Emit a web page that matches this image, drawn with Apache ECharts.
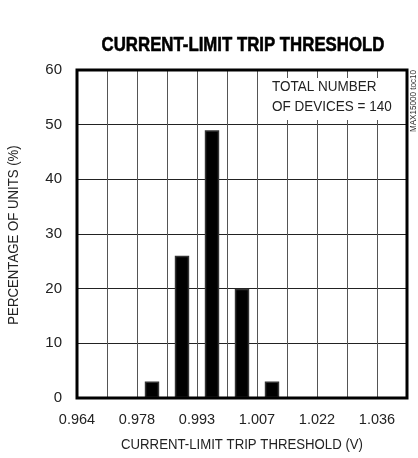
<!DOCTYPE html>
<html>
<head>
<meta charset="utf-8">
<script src="https://cdn.jsdelivr.net/npm/echarts@6/dist/echarts.min.js"></script>
<style>
html,body{margin:0;padding:0;background:#fff;}
#chart{width:418px;height:458px;}
</style>
</head>
<body>
<div id="chart"></div>
<script>
// Histogram bins (bin centres, V) and percentage of units in each bin
const bins = ['0.9676','0.9748','0.9820','0.9892','0.9964','1.0036','1.0108','1.0180','1.0252','1.0324','1.0396'];
const percentages = [0, 0, 3, 26, 49, 20, 3, 0, 0, 0, 0];
// Bin edges labelled on the x axis (blank = unlabelled gridline)
const edgeLabels = ['0.964','','0.978','','0.993','','1.007','','1.022','','1.036',''];
const yTicks = [0, 10, 20, 30, 40, 50, 60];

const FONT = "'Liberation Sans', Arial, sans-serif";
const chart = echarts.init(document.getElementById('chart'), null, {renderer: 'canvas'});
chart.setOption({
  animation: false,
  backgroundColor: '#fff',
  grid: {left: 77, right: 11, top: 70, bottom: 60, show: true, borderColor: '#000', borderWidth: 3, backgroundColor: 'transparent', z: 5},
  xAxis: [
    {
      type: 'category', data: bins, boundaryGap: true,
      axisLine: {show: false}, axisTick: {show: false}, axisLabel: {show: false},
      splitLine: {show: false}
    },
    {
      type: 'category', data: edgeLabels, boundaryGap: false, position: 'bottom',
      axisLine: {show: false}, axisTick: {show: false},
      axisLabel: {show: true, interval: 0, margin: 14, color: '#222', fontFamily: FONT, fontSize: 14.5},
      splitLine: {show: true, interval: 0, lineStyle: {color: '#555', width: 1}}
    }
  ],
  yAxis: {
    type: 'value', min: yTicks[0], max: yTicks[yTicks.length - 1], interval: 10,
    axisLine: {show: false}, axisTick: {show: false},
    axisLabel: {margin: 15, color: '#222', fontFamily: FONT, fontSize: 15},
    splitLine: {show: true, lineStyle: {color: '#222', width: 1}}
  },
  series: [{
    type: 'bar', xAxisIndex: 0, data: percentages, barWidth: '48%',
    itemStyle: {color: '#000', borderColor: '#333', borderWidth: 1.5}, z: 3
  }],
  graphic: [
    {type: 'text', x: 243, y: 45, scaleX: 0.8, style: {text: 'CURRENT-LIMIT TRIP THRESHOLD', font: "bold 21px " + FONT, fill: '#000', stroke: '#000', lineWidth: 0.6, textAlign: 'center', textVerticalAlign: 'middle'}},
    {type: 'text', x: 242, y: 445, scaleX: 0.88, style: {text: 'CURRENT-LIMIT TRIP THRESHOLD (V)', font: "15px " + FONT, fill: '#222', textAlign: 'center', textVerticalAlign: 'middle'}},
    {type: 'text', x: 14, y: 235, rotation: Math.PI / 2, scaleX: 0.88, style: {text: 'PERCENTAGE OF UNITS (%)', font: "15px " + FONT, fill: '#222', textAlign: 'center', textVerticalAlign: 'middle'}},
    {type: 'rect', shape: {x: 268, y: 78, width: 136, height: 42}, style: {fill: '#fff'}, z: 4},
    {type: 'text', x: 272, y: 87, z: 6, scaleX: 0.9, style: {text: 'TOTAL NUMBER', font: "15px " + FONT, fill: '#222', textAlign: 'left', textVerticalAlign: 'middle'}},
    {type: 'text', x: 272, y: 107, z: 6, scaleX: 0.9, style: {text: 'OF DEVICES = 140', font: "15px " + FONT, fill: '#222', textAlign: 'left', textVerticalAlign: 'middle'}},
    {type: 'text', x: 414, y: 101, rotation: Math.PI / 2, scaleX: 0.9, style: {text: 'MAX15000 toc10', font: "9px " + FONT, fill: '#333', textAlign: 'center', textVerticalAlign: 'middle'}}
  ]
});
</script>
</body>
</html>
